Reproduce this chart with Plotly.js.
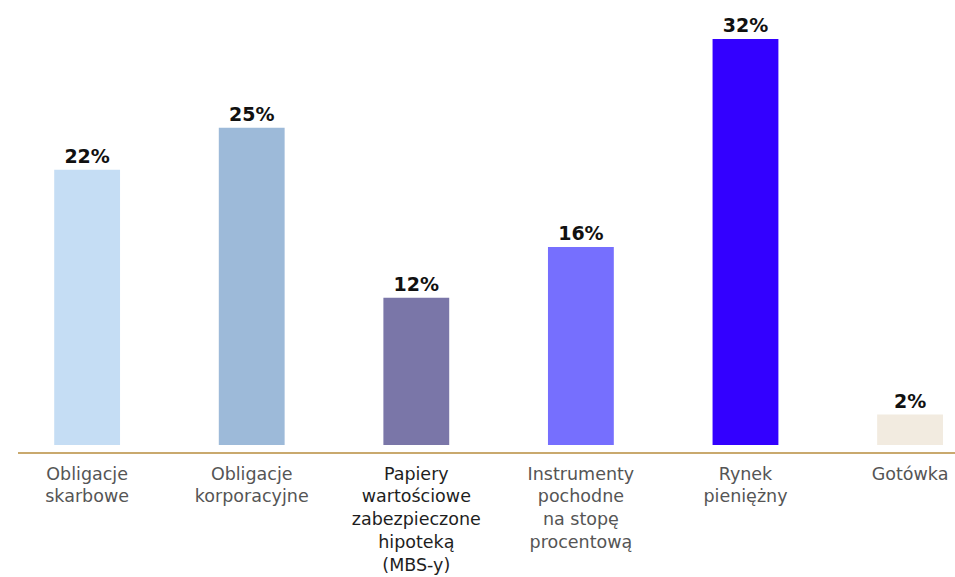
<!DOCTYPE html>
<html>
<head>
<meta charset="utf-8">
<script src="https://cdn.plot.ly/plotly-3.0.1.min.js"></script>
<style>html,body{margin:0;padding:0;background:#fff}#chart{width:955px;height:577px}</style>
</head>
<body>
<div id="chart"></div>
<script>
const categories = [
  "Obligacje<br>skarbowe",
  "Obligacje<br>korporacyjne",
  "Papiery<br>wartościowe<br>zabezpieczone<br>hipoteką<br>(MBS-y)",
  "Instrumenty<br>pochodne<br>na stopę<br>procentową",
  "Rynek<br>pieniężny",
  "Gotówka"
];
const values = [21.7, 25.0, 11.6, 15.6, 32.0, 2.4];
const labels = ["22%", "25%", "12%", "16%", "32%", "2%"];
const colors = ["#C5DDF4", "#9DBAD9", "#7A76A8", "#766FFE", "#3300FF", "#F2EBE0"];
const labelColors = ["#555555", "#555555", "#1e1e1e", "#555555", "#555555", "#555555"];

const idx = categories.map((_, i) => i);

const trace = {
  type: "bar",
  x: idx,
  y: values,
  width: 0.4,
  marker: {color: colors},
  text: labels,
  textposition: "outside",
  textfont: {family: "DejaVu Sans", size: 19, color: "#111111", weight: "bold"},
  cliponaxis: false,
  hoverinfo: "none"
};

const layout = {
  width: 955,
  height: 577,
  margin: {l: 18, r: 0, t: 10, b: 125},
  paper_bgcolor: "#ffffff",
  plot_bgcolor: "#ffffff",
  showlegend: false,
  xaxis: {
    range: [-0.42, 5.273],
    tickmode: "array",
    tickvals: idx,
    ticktext: categories.map((c, i) => '<span style="color:' + labelColors[i] + '">' + c + '</span>'),
    tickfont: {family: "DejaVu Sans", size: 17.5, color: "#555555"},
    showline: true,
    linecolor: "#C9A96E",
    linewidth: 1.5,
    showgrid: false,
    zeroline: false,
    ticks: "",
    ticklabelstandoff: 5
  },
  yaxis: {
    range: [-0.55, 34.28],
    visible: false,
    showgrid: false,
    zeroline: false
  }
};

Plotly.newPlot("chart", [trace], layout, {displayModeBar: false, staticPlot: true});
</script>
</body>
</html>
